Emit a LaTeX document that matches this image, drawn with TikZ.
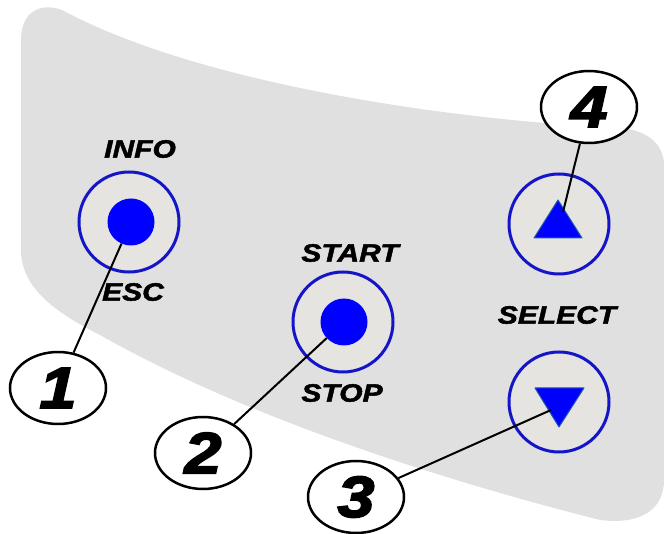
\documentclass[tikz,border=0pt]{standalone}
\usepackage{fontspec}
\newfontfamily\keyfont[FakeStretch=1.2,FakeBold=2]{Liberation Sans}
\newfontfamily\numfont[FakeStretch=1.15,FakeBold=3]{Liberation Sans}
\usetikzlibrary{shapes.geometric}
\definecolor{panelgray}{RGB}{224,224,224}
\definecolor{ringfill}{RGB}{230,228,225}
\definecolor{ringblue}{RGB}{20,20,200}
\definecolor{keyblue}{RGB}{0,0,255}
\definecolor{tipedge}{RGB}{30,90,170}

\begin{document}
\begin{tikzpicture}[x=1pt,y=-1pt,
    ring/.style={circle,draw=ringblue,line width=3pt,fill=ringfill,minimum size=100pt,inner sep=0pt},
    keydot/.style={circle,fill=keyblue,minimum size=47pt,inner sep=0pt},
    keylabel/.style={inner sep=0pt,font=\keyfont\bfseries\itshape\fontsize{25}{30}\selectfont},
    callout/.style={ellipse,draw,line width=2.5pt,fill=white,minimum width=96pt,minimum height=72pt,inner sep=0pt,
      font=\numfont\bfseries\itshape\fontsize{58}{60}\selectfont},
    lead/.style={line width=2pt}]
      \useasboundingbox (0,0) rectangle (664,534);
      \fill[panelgray] (21,250) -- (21,40) .. controls (21,12) and (40,2) .. (62,10)
        .. controls (200,84) and (450,120) .. (620,128) .. controls (648,130) and (664,145) .. (664,165)
        -- (664,480) .. controls (664,510) and (640,525) .. (600,520)
        .. controls (450,482) and (250,420) .. (100,335) .. controls (50,310) and (21,285) .. (21,250) -- cycle;

      \node[ring] (inforing) at (129,222) {};
      \node[keydot] (infodot) at (131,222) {};
      \node[ring] (startring) at (343,322) {};
      \node[keydot] (startdot) at (344,322) {};
      \node[ring] (upring) at (559,224) {};
      \node[ring] (downring) at (559,402) {};

      \filldraw[fill=keyblue,draw=tipedge,line width=1pt,line join=round] (534,238) -- (558,200) -- (582,238) -- cycle;
      \filldraw[fill=keyblue,draw=tipedge,line width=1pt,line join=round] (535,388) -- (584,388) -- (559,427) -- cycle;
      \coordinate (uptip) at (563,212);
      \coordinate (downtip) at (551,410);

      \node[keylabel] (info) at (140,149) {INFO};
      \node[keylabel] (esc) at (133,292) {ESC};
      \node[keylabel] (start) at (350,253) {START};
      \node[keylabel] (stop) at (342,393) {STOP};
      \node[keylabel] (select) at (557,315) {SELECT};

      \node[callout] (num1) at (58,388) {1};
      \node[callout] (num2) at (203,453) {2};
      \node[callout] (num3) at (356,497) {3};
      \node[callout] (num4) at (589,107) {4};

      \draw[lead] (infodot) -- (num1);
      \draw[lead] (startdot) -- (num2);
      \draw[lead] (downtip) -- (num3);
      \draw[lead] (num4) -- (uptip);
    \end{tikzpicture}
\end{document}
